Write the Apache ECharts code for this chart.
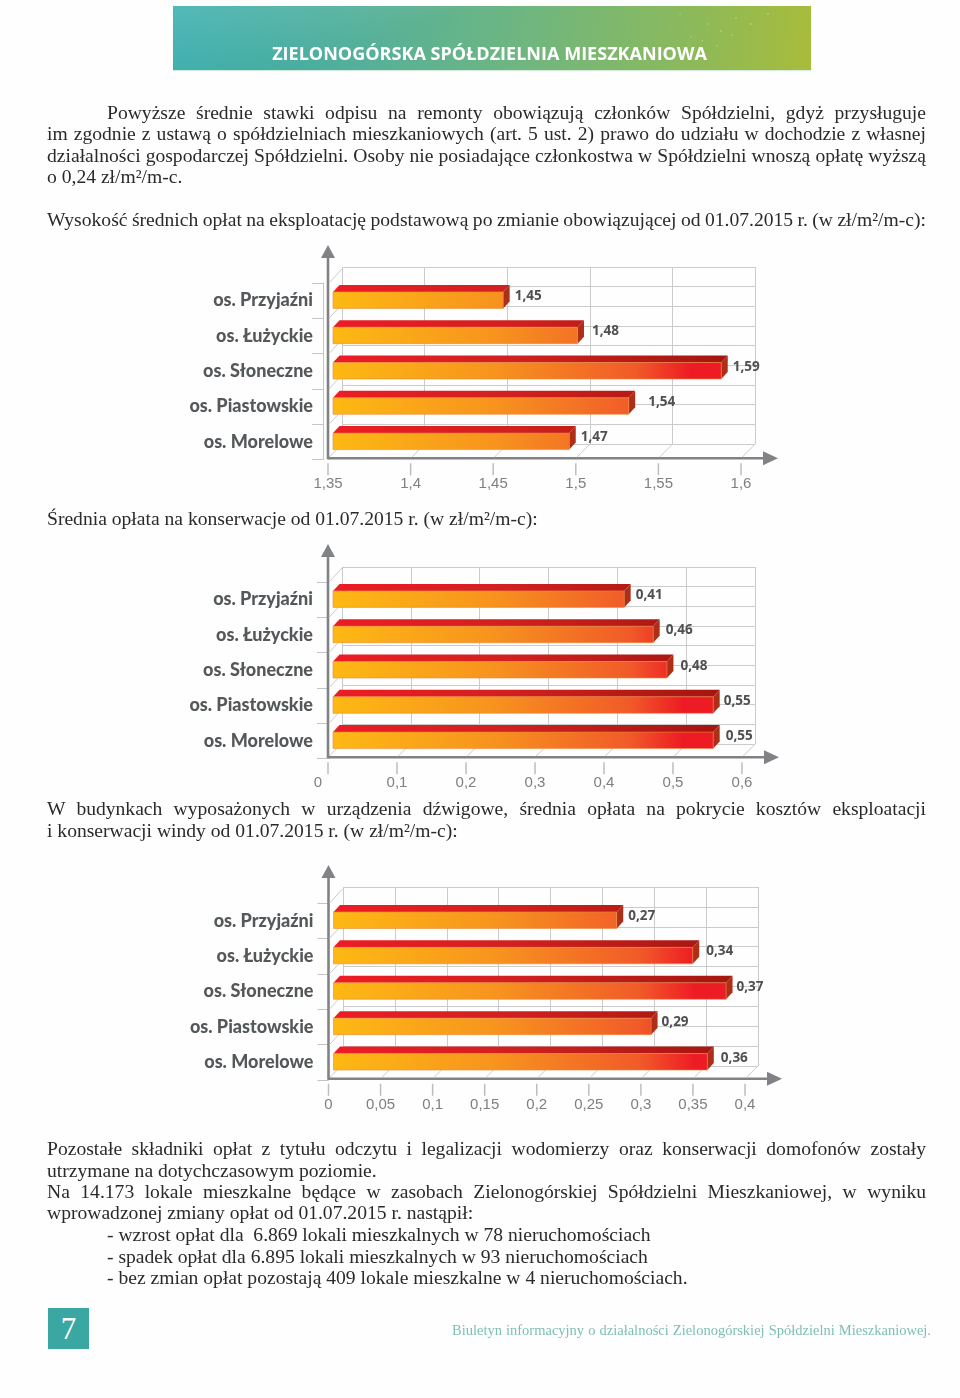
<!DOCTYPE html>
<html lang="pl"><head><meta charset="utf-8">
<script src="https://cdn.jsdelivr.net/npm/echarts@6/dist/echarts.min.js"></script>
<style>
html,body{margin:0;padding:0;background:#fefefe;}
#page{position:relative;width:960px;height:1398px;overflow:hidden;}
#chart{position:absolute;left:0;top:0;width:960px;height:1398px;}
.ln{position:absolute;font-family:"Liberation Serif",serif;font-size:19.6px;line-height:22px;color:#2a2a2a;white-space:pre;}
#head{position:absolute;left:173px;top:6px;width:638px;height:64px;background:linear-gradient(95deg,#2fa9a9 0%,#55b09a 30%,#6fb680 55%,#8bb95c 80%,#a8bc3a 100%);box-shadow:0 1px 1px #d6ebdd;}
#head:before{content:"";position:absolute;left:0;top:0;width:50%;height:100%;background:linear-gradient(160deg,rgba(255,255,255,.18),rgba(255,255,255,0) 60%);}
#headT{position:absolute;left:0;width:100%;top:34px;text-align:center;color:#fff;font:700 18.05px "Open Sans",sans-serif;line-height:26px;transform:translateX(-2.5px);}
#dots{position:absolute;left:0;top:0;width:2px;height:2px;border-radius:50%;
 box-shadow:767px 13px 0 -.2px rgba(255,255,255,.45),750px 23px 0 -.2px rgba(255,255,255,.45),735px 17px 0 -.2px rgba(255,255,255,.4),720px 30px 0 -.2px rgba(255,255,255,.4),707px 23px 0 -.2px rgba(255,255,255,.35),731px 34px 0 -.2px rgba(255,255,255,.4),701px 40px 0 -.2px rgba(255,255,255,.35),716px 45px 0 -.2px rgba(255,255,255,.35),690px 36px 0 -.2px rgba(255,255,255,.3),679px 13px 0 -.2px rgba(255,255,255,.3);}
#num{position:absolute;left:48px;top:1308px;width:41px;height:41px;background:#3aa7a2;color:#fff;font:31px/41px "Liberation Serif",serif;text-align:center;}
#foot{position:absolute;left:452px;top:1320px;font:14.5px/20px "Liberation Serif",serif;color:#7dbfb2;white-space:pre;}
</style></head>
<body><div id="page"><div id="chart"></div>
<div id="head"><div id="headT">ZIELONOGÓRSKA SPÓŁDZIELNIA MIESZKANIOWA</div></div>
<div id="dots"></div>
<div id="num">7</div>
<div id="foot">Biuletyn informacyjny o działalności Zielonogórskiej Spółdzielni Mieszkaniowej.</div>
</div>
<script>
const categories = ['os. Przyjaźni','os. Łużyckie','os. Słoneczne','os. Piastowskie','os. Morelowe'];

const chart1Ticks = [1.35,1.4,1.45,1.5,1.55,1.6];
const chart1TickLabels = ['1,35','1,4','1,45','1,5','1,55','1,6'];
const chart1Printed = ['1,45','1,48','1,59','1,54','1,47'];
const chart1Lengths = [1.453,1.498,1.585,1.529,1.493];

const chart2Ticks = [0,0.1,0.2,0.3,0.4,0.5,0.6];
const chart2TickLabels = ['0','0,1','0,2','0,3','0,4','0,5','0,6'];
const chart2Printed = ['0,41','0,46','0,48','0,55','0,55'];
const chart2Lengths = [0.422,0.464,0.484,0.551,0.551];

const chart3Ticks = [0,0.05,0.1,0.15,0.2,0.25,0.3,0.35,0.4];
const chart3TickLabels = ['0','0,05','0,1','0,15','0,2','0,25','0,3','0,35','0,4'];
const chart3Printed = ['0,27','0,34','0,37','0,29','0,36'];
const chart3Lengths = [0.272,0.345,0.377,0.305,0.359];

const textLines = [
 [107,113,819,'Powyższe średnie stawki odpisu na remonty obowiązują członków Spółdzielni, gdyż przysługuje'],
 [47,134,879,'im zgodnie z ustawą o spółdzielniach mieszkaniowych (art. 5 ust. 2) prawo do udziału w dochodzie z własnej'],
 [47,156,879,'działalności gospodarczej Spółdzielni. Osoby nie posiadające członkostwa w Spółdzielni wnoszą opłatę wyższą'],
 [47,177,0,'o 0,24 zł/m²/m-c.'],
 [47,220,879,'Wysokość średnich opłat na eksploatację podstawową po zmianie obowiązującej od 01.07.2015 r. (w zł/m²/m-c):'],
 [47,519,0,'Średnia opłata na konserwacje od 01.07.2015 r. (w zł/m²/m-c):'],
 [47,809,879,'W budynkach wyposażonych w urządzenia dźwigowe, średnia opłata na pokrycie kosztów eksploatacji'],
 [47,831,0,'i konserwacji windy od 01.07.2015 r. (w zł/m²/m-c):'],
 [47,1149,879,'Pozostałe składniki opłat z tytułu odczytu i legalizacji wodomierzy oraz konserwacji domofonów zostały'],
 [47,1171,0,'utrzymane na dotychczasowym poziomie.'],
 [47,1192,879,'Na 14.173 lokale mieszkalne będące w zasobach Zielonogórskiej Spółdzielni Mieszkaniowej, w wyniku'],
 [47,1213,0,'wprowadzonej zmiany opłat od 01.07.2015 r. nastąpił:'],
 [107,1235,0,'- wzrost opłat dla  6.869 lokali mieszkalnych w 78 nieruchomościach'],
 [107,1257,0,'- spadek opłat dla 6.895 lokali mieszkalnych w 93 nieruchomościach'],
 [107,1278,0,'- bez zmian opłat pozostają 409 lokale mieszkalne w 4 nieruchomościach.']
];

const page = document.getElementById('page');
function fit(el,w){
  const gaps=(el.textContent.match(/ /g)||[]).length;
  if(gaps) el.style.wordSpacing=((w-el.getBoundingClientRect().width)/gaps)+'px';
}
textLines.forEach(([x,y,w,t])=>{
  const d=document.createElement('div');
  d.className='ln';
  d.style.left=x+'px'; d.style.top=(y-11)+'px';
  d.textContent=t;
  page.appendChild(d);
  if(w) fit(d,w);
});
fit(document.getElementById('foot'),479);

const panels = [
 {ticks:chart1Ticks,labels:chart1TickLabels,printed:chart1Printed,lengths:chart1Lengths,interval:0.05,
  front:{left:328,width:413,top:283,height:176.5}, wall:{left:342,width:413,top:267,height:177}, gaps:[5,8,5,13,5], zeroPad:0, labelMargin:16.5},
 {ticks:chart2Ticks,labels:chart2TickLabels,printed:chart2Printed,lengths:chart2Lengths,interval:0.1,
  front:{left:328,width:414,top:582,height:176.5}, wall:{left:342,width:413,top:567,height:177}, gaps:[5,6,7,4,6], zeroPad:20, labelMargin:16.5},
 {ticks:chart3Ticks,labels:chart3TickLabels,printed:chart3Printed,lengths:chart3Lengths,interval:0.05,
  front:{left:328.5,width:416.5,top:903,height:177}, wall:{left:343,width:415,top:887,height:179}, gaps:[5,7,4,4,7], zeroPad:0, labelMargin:17.5}
];

const DX=6.5, DY=7, H=16.5, START=5, UP=1.2, GRID='#cbcbcb', AX='#808285';
const grid=[],xAxis=[],yAxis=[],series=[];
const G=echarts.graphic.LinearGradient;

panels.forEach((p)=>{
  const min=p.ticks[0], max=p.ticks[p.ticks.length-1];
  // back wall
  const w=grid.length;
  grid.push(p.wall);
  xAxis.push({type:'value',gridIndex:w,min,max,interval:p.interval,axisLine:{show:false},axisTick:{show:false},axisLabel:{show:false},
    splitLine:{show:true,lineStyle:{color:GRID,width:1}}});
  yAxis.push({type:'value',gridIndex:w,min:0,max:9,interval:1,axisLine:{show:false},axisTick:{show:false},axisLabel:{show:false},
    splitLine:{show:true,lineStyle:{color:GRID,width:1}}});
  series.push({type:'custom',xAxisIndex:w,yAxisIndex:w,data:[],renderItem(){return {type:'group',children:[]};},silent:true});
  // front plane
  const f=grid.length;
  grid.push(p.front);
  xAxis.push({type:'value',gridIndex:f,min,max,interval:p.interval,splitLine:{show:false},axisLine:{show:false},axisTick:{show:false},
    axisLabel:{margin:p.labelMargin,color:'#7f7f7f',fontFamily:'Liberation Sans',fontSize:15,
      formatter:(v)=>{const s=p.labels[p.ticks.findIndex(t=>Math.abs(t-v)<1e-6)];
        return (p.zeroPad && v===0)?'{z|'+s+'}':s;},
      rich:{z:{padding:[0,p.zeroPad,0,0],color:'#7f7f7f',fontFamily:'Liberation Sans',fontSize:15}}}});
  yAxis.push({type:'category',gridIndex:f,data:categories,inverse:true,offset:5,
    axisLine:{show:true,lineStyle:{color:'#c4c4c4',width:1}},axisTick:{show:true,length:11,lineStyle:{color:'#c4c4c4',width:1}},
    axisLabel:{margin:10,padding:[3,0,0,0],color:'#55585a',fontFamily:'Lato',fontWeight:900,fontSize:18},splitLine:{show:false}});

  // depth lines, ticks and the arrow-headed axes
  series.push({type:'custom',xAxisIndex:f,yAxisIndex:f,silent:true,z:3,clip:false,
    data:p.ticks.map(t=>[t,categories.length-1]),
    renderItem(params,api){
      const c=api.coord([api.value(0),api.value(1)]);
      const band=api.size([0,1])[1];
      const y=c[1]+band/2-UP, x=c[0];
      const kids=[
        {type:'line',shape:{x1:x,y1:y+5,x2:x,y2:y+17},style:{stroke:'#bdbdbd',lineWidth:1.5}},
        {type:'line',shape:{x1:x+1,y1:y-1,x2:x+14,y2:y-14},style:{stroke:GRID,lineWidth:1}}
      ];
      if(params.dataIndex===0){
        const right=api.coord([max,0])[0], top=api.coord([min,0])[1]-band/2;
        kids.push(
          {type:'line',shape:{x1:x,y1:y,x2:right+24,y2:y},style:{stroke:AX,lineWidth:2.6}},
          {type:'line',shape:{x1:x,y1:y+1,x2:x,y2:top-26},style:{stroke:AX,lineWidth:2.6}},
          {type:'polygon',shape:{points:[[right+22,y-7],[right+37,y],[right+22,y+7]]},style:{fill:AX}},
          {type:'polygon',shape:{points:[[x-7,top-25],[x,top-38],[x+7,top-25]]},style:{fill:AX}}
        );
      }
      return {type:'group',children:kids};
    }});
  // left wall depth lines at category boundaries
  series.push({type:'custom',xAxisIndex:f,yAxisIndex:f,silent:true,z:3,clip:false,
    data:categories.map((c,i)=>[min,i]),
    renderItem(params,api){
      const c=api.coord([min,api.value(1)]);
      const y=c[1]-api.size([0,1])[1]/2, x=c[0]+1;
      return {type:'line',shape:{x1:x,y1:y,x2:x+13,y2:y-14},style:{stroke:GRID,lineWidth:1}};
    }});
  // 3-D bars
  const longest=Math.max(...p.lengths);
  series.push({type:'custom',xAxisIndex:f,yAxisIndex:f,z:5,clip:false,name:'bars',
    data:p.lengths.map((v,i)=>[v,i]),
    renderItem(params,api){
      const i=params.dataIndex;
      const c=api.coord([api.value(0),api.value(1)]);
      const x0=api.coord([min,0])[0]+START, x1=c[0]+START;
      const yt=c[1]-H/2-0.5, yb=yt+H;
      const xEnd=api.coord([longest,0])[0]+START;
      const frontFill=new G(x0,0,xEnd,0,[
        {offset:0,color:'#fdb913'},{offset:.42,color:'#f7931e'},{offset:.78,color:'#f15a29'},
        {offset:.92,color:'#ed1c24'},{offset:1,color:'#ed1c24'}],true);
      const topFill=new G(x0,0,xEnd,0,[
        {offset:0,color:'#ed1c24'},{offset:.45,color:'#d2201f'},{offset:1,color:'#a5160f'}],true);
      return {type:'group',children:[
        {type:'polygon',shape:{points:[[x0,yt],[x0+DX,yt-DY],[x1+DX,yt-DY],[x1,yt]]},style:{fill:topFill}},
        {type:'polygon',shape:{points:[[x1,yt],[x1+DX,yt-DY],[x1+DX,yb-DY],[x1,yb]]},style:{fill:'#ae2f18'}},
        {type:'rect',shape:{x:x0,y:yt,width:x1-x0,height:H},style:{fill:frontFill,stroke:'#e58a3c',lineWidth:.6}},
        {type:'text',style:{x:x1+DX+p.gaps[i],y:c[1]-4.5,text:p.printed[i],fill:'#4d4f51',
          font:'700 13.5px "Open Sans"',align:'left',verticalAlign:'middle'}}
      ]};
    }});
});

const chart=echarts.init(document.getElementById('chart'));
chart.setOption({animation:false,backgroundColor:'transparent',grid,xAxis,yAxis,series});
</script></body></html>
